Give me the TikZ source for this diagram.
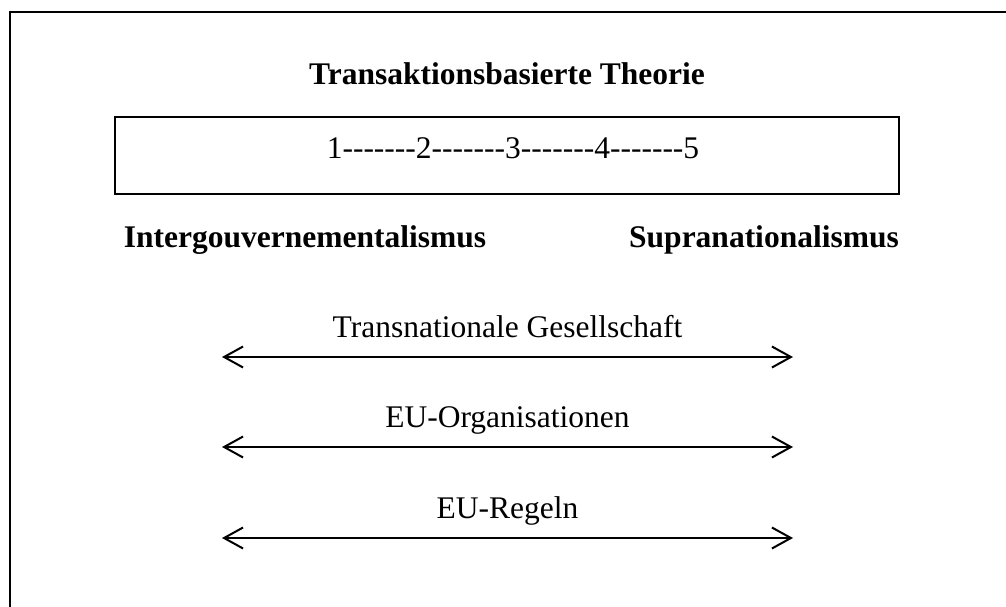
\documentclass[tikz,border=0pt]{standalone}
\usepackage{fontspec}
\setmainfont{Liberation Serif}[Ligatures=TeXOff]
\usetikzlibrary{
  arrows.meta,
  positioning
}

\tikzset{
    frame line/.style={line width=2pt, black},
    body text/.style={font=\fontsize{31.5}{37}\selectfont, inner sep=0pt},
    head text/.style={body text, font=\fontsize{31.5}{37}\selectfont\bfseries},
}

\begin{document}
\begin{tikzpicture}[x=1pt, y=-1pt, >={Straight Barb[length=19pt, width=21pt]}]

% Fix the page size and cut the outer frame at the page edge
\useasboundingbox (0,0) rectangle (1006,607);
\clip (0,0) rectangle (1006,607);

% Outer frame, runs past the right and lower edge
\draw[frame line] (10,12) rectangle (1030,640);

% Title and the scale box
\node[head text, anchor=base] (titel) at (507,85) {Transaktionsbasierte Theorie};
\node[
    draw,
    frame line,
    minimum width = 784pt,
    minimum height= 77pt,
    inner sep=0pt
] (skala) at (507,155.5) {};
\node[body text, anchor=base] (zahlen) at (513,158) {1-------2-------3-------4-------5};

% The two poles under the box
\node[head text, anchor=base] (intergov) at (305,247) {Intergouvernementalismus};
\node[head text, anchor=base] (supra) at (764,247) {Supranationalismus};

% The three double arrows with their labels
\foreach \k/\lbl/\y in {1/Transnationale Gesellschaft/357,
                        2/EU-Organisationen/447,
                        3/EU-Regeln/538} {
    \coordinate (links\k) at (222,\y);
    \coordinate (rechts\k) at (793,\y);
    \draw[<->, line width=2pt] (links\k) -- (rechts\k);
    \node[body text, anchor=base] (achse\k) at (507.5,\y-20) {\lbl};
}

\end{tikzpicture}
\end{document}
